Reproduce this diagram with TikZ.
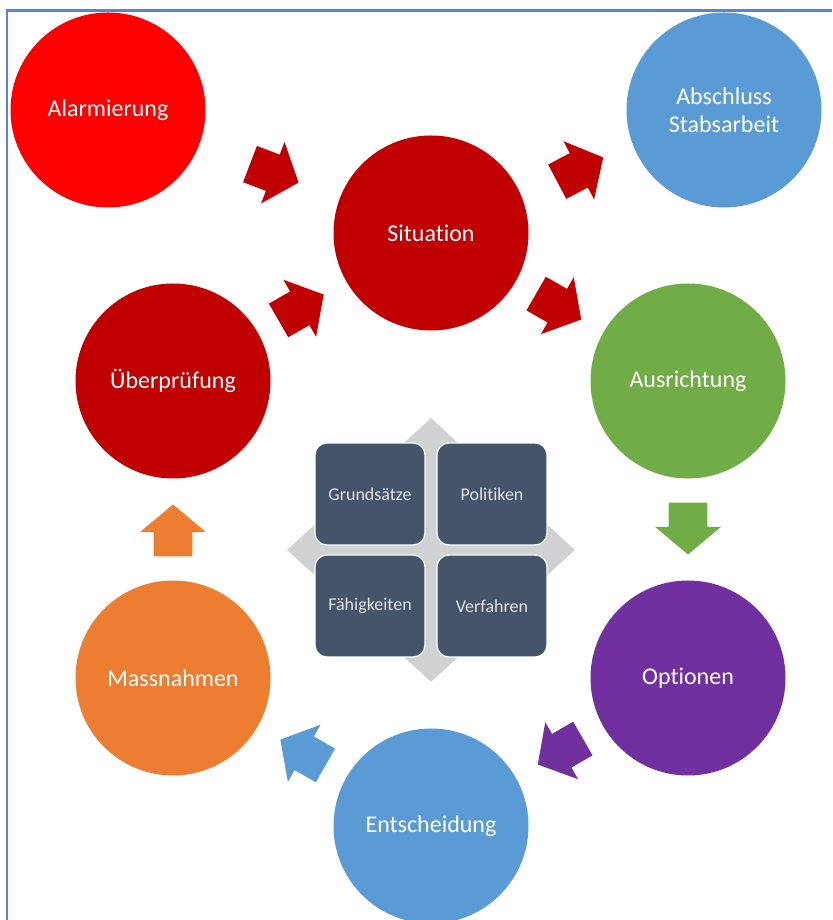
\documentclass[tikz,border=0pt]{standalone}
\usepackage{fontspec}
\setmainfont{Carlito}[Ligatures=NoCommon]
\usetikzlibrary{positioning, shapes.arrows, shapes.geometric}

\definecolor{brightred}{HTML}{FF0000}
\definecolor{darkred}{HTML}{C00000}
\definecolor{skyblue}{HTML}{5B9BD5}
\definecolor{leafgreen}{HTML}{70AD47}
\definecolor{violet}{HTML}{7030A0}
\definecolor{tangerine}{HTML}{ED7D31}
\definecolor{slate}{HTML}{44546A}
\definecolor{lightgrey}{HTML}{D0D1D3}
\definecolor{frameblue}{HTML}{5B83CF}

\begin{document}
\begin{tikzpicture}[
        on grid,
        phase/.style={circle, minimum size=97.5pt, inner sep=0pt, text=white,
            align=center, font=\fontsize{12}{14}\selectfont},
        flow/.style={single arrow, minimum height=26pt, inner xsep=0pt, inner ysep=9.5pt,
            single arrow head extend=6.75pt, single arrow tip angle=100,
            sloped, allow upside down, pos=0.41},
        tile/.style={rectangle, rounded corners=6pt, fill=slate, draw=white,
            line width=0.6pt, minimum width=55pt, minimum height=51pt,
            text=gray!22, font=\fontsize{9}{11}\selectfont}]
        \useasboundingbox (0,0) rectangle (416pt,460pt);
        \draw[frameblue, line width=1.2pt] (3.5pt,0) -- (3.5pt,454.75pt) -- (416pt,454.75pt);

        % Phases
        \node[phase, fill=darkred] (situation) at (215.5pt,343.5pt) {Situation};
        \node[phase, fill=brightred, above left=61.5pt and 161.5pt of situation] (alarm) {Alarmierung};
        \node[phase, fill=skyblue, above right=61.5pt and 146.5pt of situation] (closing) {Abschluss\\Stabsarbeit};
        \node[phase, fill=darkred, below left=74pt and 129pt of situation] (review) {Überprüfung};
        \node[phase, fill=leafgreen, below right=74pt and 128.5pt of situation] (alignment) {Ausrichtung};
        \node[phase, fill=tangerine, below=148.5pt of review] (measures) {Massnahmen};
        \node[phase, fill=violet, below=148.5pt of alignment] (options) {Optionen};
        \node[phase, fill=skyblue, below=296.5pt of situation] (decision) {Entscheidung};

        % Arrows
        \path (alarm) -- node[flow, fill=darkred, pos=0.48] {} (situation);
        \path (review) -- node[flow, fill=darkred] {} (situation);
        \path (situation) -- node[flow, fill=darkred, pos=0.46, rotate=5] {} (closing);
        \path (situation) -- node[flow, fill=darkred] {} (alignment);
        \path (alignment) -- node[flow, fill=leafgreen] {} (options);
        \path (options) -- node[flow, fill=violet] {} (decision);
        \path (decision) -- node[flow, fill=skyblue] {} (measures);
        \path (measures) -- node[flow, fill=tangerine] {} (review);

        % Matrix in the middle
        \coordinate[below=158.5pt of situation] (hub);
        \node[diamond, fill=lightgrey, minimum width=144pt, minimum height=132pt, inner sep=0pt] (backdrop) at (hub) {};
        \node[tile, xshift=-30.5pt, yshift=28pt] (principles) at (hub) {Grundsätze};
        \node[tile, xshift=30.5pt, yshift=28pt] (policies) at (hub) {Politiken};
        \node[tile, xshift=-30.5pt, yshift=-28pt] (capabilities) at (hub) {Fähigkeiten};
        \node[tile, xshift=30.5pt, yshift=-28pt] (procedures) at (hub) {Verfahren};
\end{tikzpicture}
\end{document}
